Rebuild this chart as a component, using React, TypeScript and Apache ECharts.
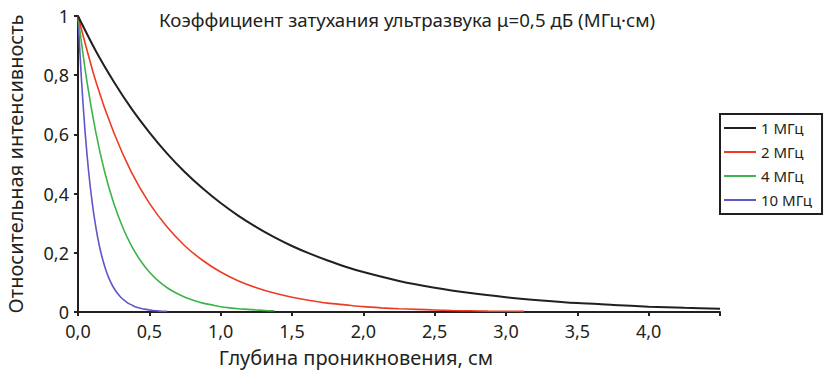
import React, { useEffect, useRef } from "react";
import * as echarts from "echarts";

const seriesNames = ["1 МГц", "2 МГц", "4 МГц", "10 МГц"];
const seriesColors = ["#231f20", "#ee3b24", "#3cb44a", "#5e57c8"];

const depth1 = [0, 0.125, 0.25, 0.375, 0.5, 0.625, 0.75, 0.875, 1.0, 1.125, 1.25, 1.375, 1.5, 1.625, 1.75, 1.875, 2.0, 2.25, 2.5, 2.75, 3.0, 3.25, 3.5, 3.75, 4.0, 4.25, 4.5];
const int1 = [1, 0.882, 0.779, 0.687, 0.607, 0.535, 0.472, 0.417, 0.368, 0.325, 0.287, 0.253, 0.223, 0.197, 0.174, 0.153, 0.135, 0.105, 0.082, 0.064, 0.05, 0.039, 0.03, 0.024, 0.018, 0.014, 0.011];

const depth2 = [0, 0.125, 0.25, 0.375, 0.5, 0.625, 0.75, 0.875, 1.0, 1.125, 1.25, 1.375, 1.5, 1.625, 1.75, 1.875, 2.0, 2.125, 2.25, 2.375, 2.5, 2.625, 2.75, 2.875, 3.0, 3.125];
const int2 = [1, 0.779, 0.607, 0.472, 0.368, 0.287, 0.223, 0.174, 0.135, 0.105, 0.082, 0.064, 0.05, 0.039, 0.03, 0.024, 0.018, 0.014, 0.011, 0.009, 0.007, 0.005, 0.004, 0.003, 0.0025, 0.002];

const depth4 = [0, 0.0625, 0.125, 0.1875, 0.25, 0.3125, 0.375, 0.4375, 0.5, 0.5625, 0.625, 0.6875, 0.75, 0.8125, 0.875, 0.9375, 1.0, 1.0625, 1.125, 1.1875, 1.25, 1.3125, 1.375];
const int4 = [1, 0.779, 0.607, 0.472, 0.368, 0.287, 0.223, 0.174, 0.135, 0.105, 0.082, 0.064, 0.05, 0.039, 0.03, 0.024, 0.018, 0.014, 0.011, 0.009, 0.007, 0.005, 0.004];

const depth10 = [0, 0.025, 0.05, 0.075, 0.1, 0.125, 0.15, 0.175, 0.2, 0.225, 0.25, 0.275, 0.3, 0.325, 0.35, 0.375, 0.4, 0.425, 0.45, 0.475, 0.5, 0.525, 0.55, 0.575, 0.6, 0.625];
const int10 = [1, 0.779, 0.607, 0.472, 0.368, 0.287, 0.223, 0.174, 0.135, 0.105, 0.082, 0.064, 0.05, 0.039, 0.03, 0.024, 0.018, 0.014, 0.011, 0.009, 0.007, 0.005, 0.004, 0.003, 0.0025, 0.002];

const titleText = "Коэффициент затухания ультразвука μ=0,5 дБ (МГц·см)";
const xName = "Глубина проникновения, см";
const yName = "Относительная интенсивность";

const FONT = "'Noto Sans', sans-serif";
const TXT = "#231f20";

const zip = (xs: number[], ys: number[]) => xs.map((x, i) => [x, ys[i]]);

export default function App() {
  const ref = useRef<HTMLDivElement>(null);
  useEffect(() => {
    if (!ref.current) return;
    const chart = echarts.init(ref.current, null, { renderer: "svg" });
    const datas = [zip(depth1, int1), zip(depth2, int2), zip(depth4, int4), zip(depth10, int10)];
    chart.setOption({
      animation: false,
      backgroundColor: "#ffffff",
      title: {
        text: titleText,
        left: 154,
        top: 5,
        textStyle: { fontFamily: FONT, fontSize: 18.7, fontWeight: "normal", color: TXT },
      },
      grid: { left: 78, right: 117, top: 16, bottom: 61, outerBoundsMode: "none", containLabel: false },
      legend: {
        data: seriesNames,
        orient: "vertical",
        left: 720,
        top: 114,
        borderColor: "#231f20",
        borderWidth: 2,
        padding: [6, 10, 6, 4],
        icon: "rect",
        itemWidth: 32,
        itemHeight: 2,
        itemGap: 8,
        textStyle: { fontFamily: FONT, fontSize: 15, lineHeight: 16, color: TXT },
      },
      xAxis: {
        type: "value",
        min: 0,
        max: 4.5,
        interval: 0.5,
        axisLine: { show: true, lineStyle: { color: TXT, width: 2 } },
        axisTick: { show: true, length: 4, lineStyle: { color: TXT, width: 2 } },
        splitLine: { show: false },
        axisLabel: {
          fontFamily: FONT,
          fontSize: 18,
          color: TXT,
          margin: 10,
          formatter: (v: number) => (v > 4.25 ? "" : v.toFixed(1).replace(".", ",")),
        },
      },
      yAxis: {
        type: "value",
        min: 0,
        max: 1,
        interval: 0.2,
        name: yName,
        nameLocation: "middle",
        nameGap: 53,
        nameTextStyle: { fontFamily: FONT, fontSize: 20, color: TXT },
        axisLine: { show: true, lineStyle: { color: TXT, width: 2 } },
        axisTick: { show: true, length: 4, lineStyle: { color: TXT, width: 2 } },
        splitLine: { show: false },
        axisLabel: {
          fontFamily: FONT,
          fontSize: 18,
          color: TXT,
          margin: 9,
          formatter: (v: number) =>
            v === 0 || v === 1 ? String(v) : v.toFixed(1).replace(".", ","),
        },
      },
      graphic: [
        {
          type: "text",
          x: 356,
          y: 357,
          style: {
            text: xName,
            fontFamily: FONT,
            fontSize: 20,
            fill: TXT,
            textAlign: "center",
            textVerticalAlign: "middle",
          },
        },
      ],
      series: seriesNames.map((name, i) => ({
        name,
        type: "line",
        data: datas[i],
        showSymbol: false,
        symbol: "none",
        smooth: 0.3,
        lineStyle: { color: seriesColors[i], width: i === 0 ? 2 : 1.6 },
        itemStyle: { color: seriesColors[i] },
        z: 10 - i,
      })),
    });
    return () => chart.dispose();
  }, []);
  return (
    <div
      ref={ref}
      style={{ position: "fixed", left: 0, top: 0, width: 837, height: 373 }}
    />
  );
}
